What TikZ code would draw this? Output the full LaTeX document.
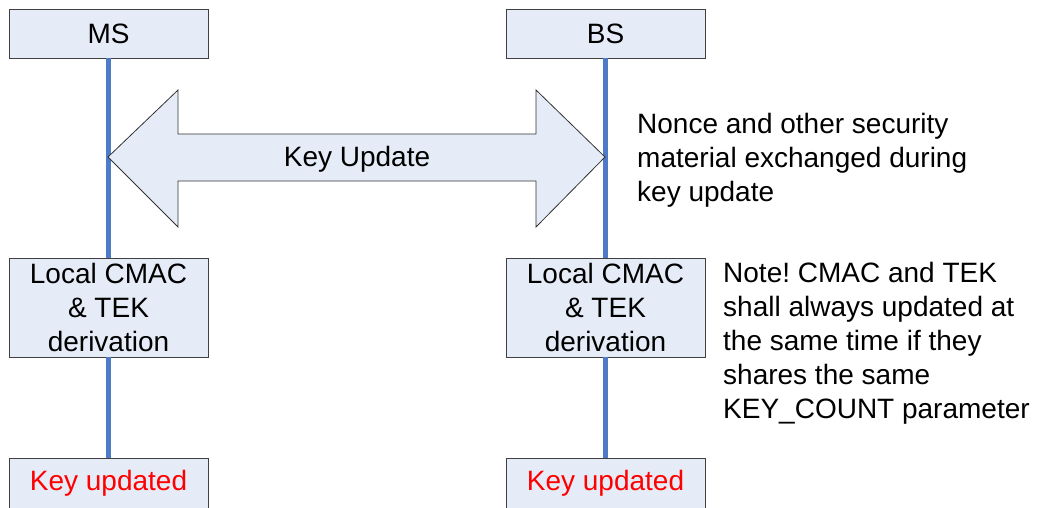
\documentclass[tikz,border=0pt]{standalone}
\usepackage{fontspec}
\setmainfont{Liberation Sans}
\frenchspacing
\begin{document}
\begin{tikzpicture}[x=1pt,y=-1pt,
  box/.style={draw=black!75,line width=0.8pt,fill=boxfill,minimum width=199pt,inner sep=0pt,align=center,font=\fontsize{28}{34}\selectfont},
  life/.style={draw=lifeblue,line width=4.5pt},
  note/.style={inner sep=0pt,align=left,anchor=north west,font=\fontsize{28}{34}\selectfont}]
\definecolor{boxfill}{RGB}{230,236,247}
\definecolor{lifeblue}{RGB}{78,122,199}
\useasboundingbox (0,0) rectangle (1039,507);
% boxes
\node[box,minimum height=49pt] (ms) at (108.5,33.5) {MS};
\node[box,minimum height=49pt] (bs) at (605.5,33.5) {BS};
\node[box,minimum height=99pt] (msd) at (108.5,307.5) {Local CMAC\\ \& TEK\\ derivation};
\node[box,minimum height=99pt] (bsd) at (605.5,307.5) {Local CMAC\\ \& TEK\\ derivation};
\node[box,minimum height=50pt,text=red] (msk) at (108.5,483) {Key updated};
\node[box,minimum height=50pt,text=red] (bsk) at (605.5,483) {Key updated};
% lifelines
\draw[life] (ms.south) -- (msd.north);
\draw[life] (msd.south) -- (msk.north);
\draw[life] (bs.south) -- (bsd.north);
\draw[life] (bsd.south) -- (bsk.north);
% double arrow
\coordinate (lt) at (108,157);
\coordinate (rt) at (605,157);
\draw[draw=black!80,line width=0.8pt,fill=boxfill]
  (lt) -- (178,90) -- (178,134) -- (536,134) -- (536,90) -- (rt)
  -- (536,227) -- (536,181) -- (178,181) -- (178,227) -- cycle;
\node[font=\fontsize{28}{34}\selectfont,inner sep=0pt] (ku) at (357,159) {Key Update};
% notes
\node[note] (n1) at (637,113) {Nonce and other security\\material exchanged during\\key update};
\node[note] (n2) at (723,262) {Note! CMAC and TEK\\shall always updated at\\the same time if they\\shares the same\\KEY\_COUNT parameter};
\end{tikzpicture}
\end{document}
